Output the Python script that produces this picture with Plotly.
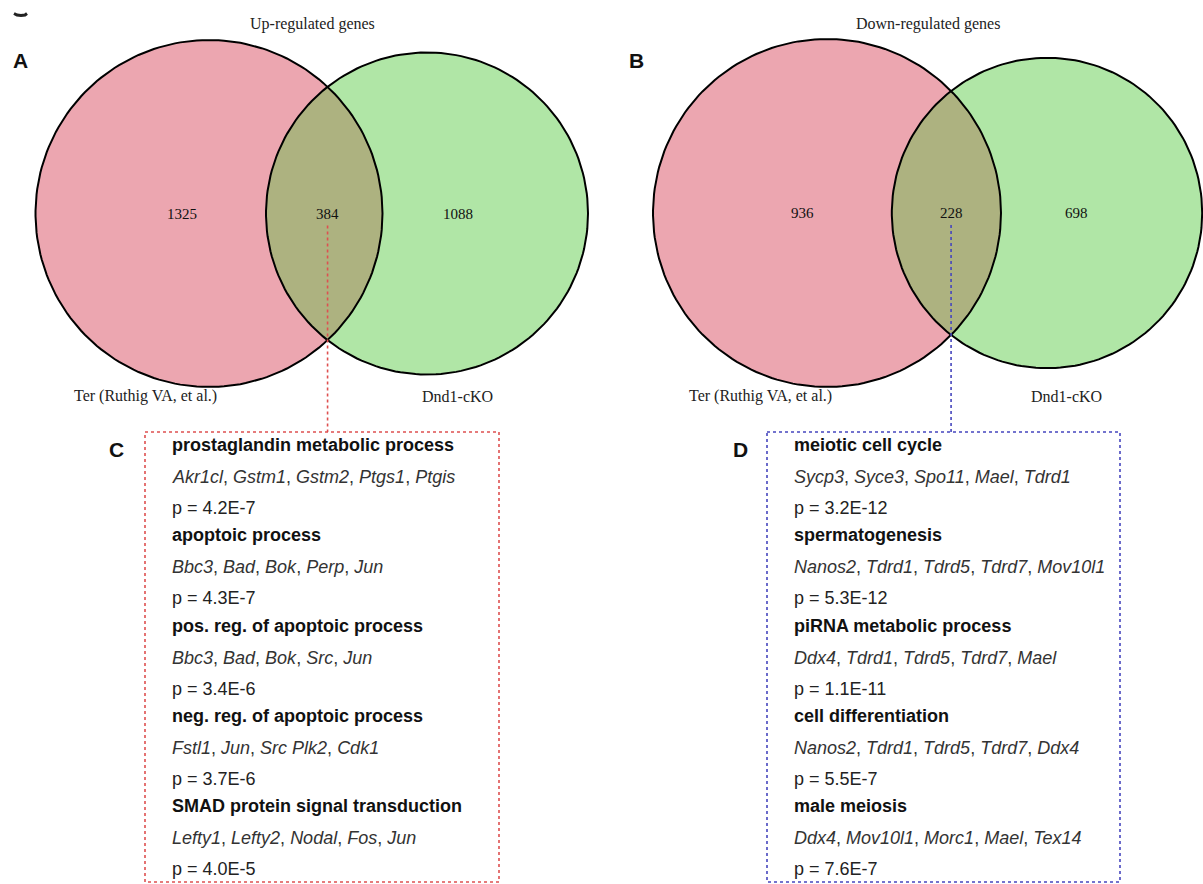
import numpy as np
import plotly.graph_objects as go

# ---- data -------------------------------------------------------------
panel_titles = ["Up-regulated genes", "Down-regulated genes"]
set_names = ["Ter (Ruthig VA, et al.)", "Dnd1-cKO"]

up_only_ter = 1325
up_shared = 384
up_only_dnd = 1088

down_only_ter = 936
down_shared = 228
down_only_dnd = 698

up_terms = ["prostaglandin metabolic process", "apoptoic process",
            "pos. reg. of apoptoic process", "neg. reg. of apoptoic process",
            "SMAD protein signal transduction"]
up_genes = [["Akr1cl", "Gstm1", "Gstm2", "Ptgs1", "Ptgis"],
            ["Bbc3", "Bad", "Bok", "Perp", "Jun"],
            ["Bbc3", "Bad", "Bok", "Src", "Jun"],
            ["Fstl1", "Jun", "Src Plk2", "Cdk1"],
            ["Lefty1", "Lefty2", "Nodal", "Fos", "Jun"]]
up_pvals = ["4.2E-7", "4.3E-7", "3.4E-6", "3.7E-6", "4.0E-5"]

down_terms = ["meiotic cell cycle", "spermatogenesis", "piRNA metabolic process",
              "cell differentiation", "male meiosis"]
down_genes = [["Sycp3", "Syce3", "Spo11", "Mael", "Tdrd1"],
              ["Nanos2", "Tdrd1", "Tdrd5", "Tdrd7", "Mov10l1"],
              ["Ddx4", "Tdrd1", "Tdrd5", "Tdrd7", "Mael"],
              ["Nanos2", "Tdrd1", "Tdrd5", "Tdrd7", "Ddx4"],
              ["Ddx4", "Mov10l1", "Morc1", "Mael", "Tex14"]]
down_pvals = ["3.2E-12", "5.3E-12", "1.1E-11", "5.5E-7", "7.6E-7"]

# ---- styling ----------------------------------------------------------
W, H = 1203, 884
PINK = "rgb(236,166,176)"
GREEN = "rgb(176,230,166)"
OLIVE = "rgb(173,178,128)"
SERIF = "Liberation Serif, Times New Roman, serif"
SANS = "Liberation Sans, Arial, sans-serif"

fig = go.Figure()
annotations = []
shapes = []


def arc(cx, cy, r, t0, t1, n=200):
    t = np.linspace(t0, t1, n)
    return cx + r * np.cos(t), cy + r * np.sin(t)


def venn(cx1, cy, r1, cx2, n1, n2, n12, title, title_x, letter, letter_x,
         lab1_x, lab2_x):
    # radii follow the total size of each set
    r2 = r1 * np.sqrt((n2 + n12) / (n1 + n12))
    d = cx2 - cx1
    a = (d ** 2 + r1 ** 2 - r2 ** 2) / (2 * d)
    h = np.sqrt(r1 ** 2 - a ** 2)

    x1, y1 = arc(cx1, cy, r1, 0, 2 * np.pi)
    x2, y2 = arc(cx2, cy, r2, 0, 2 * np.pi)
    al1 = np.arctan2(h, a)
    al2 = np.arctan2(h, d - a)
    lx1, ly1 = arc(cx1, cy, r1, -al1, al1)
    lx2, ly2 = arc(cx2, cy, r2, np.pi - al2, np.pi + al2)
    lx = np.concatenate([lx1, lx2])
    ly = np.concatenate([ly1, ly2])

    for xs, ys, col in [(x1, y1, PINK), (x2, y2, GREEN), (lx, ly, OLIVE)]:
        fig.add_trace(go.Scatter(x=xs, y=ys, mode="lines", fill="toself",
                                 fillcolor=col, line=dict(width=0),
                                 hoverinfo="skip", showlegend=False))
    for xs, ys in [(x1, y1), (x2, y2)]:
        fig.add_trace(go.Scatter(x=xs, y=ys, mode="lines",
                                 line=dict(color="black", width=2),
                                 hoverinfo="skip", showlegend=False))

    xi = cx1 + a
    num_y = cy
    for x, v in [((cx1 - r1 + xi) / 2, n1), (xi, n12), ((xi + cx2 + r2) / 2, n2)]:
        annotations.append(dict(x=x, y=num_y, text=str(v), showarrow=False,
                                font=dict(family=SERIF, size=15, color="#111"),
                                xanchor="center", yanchor="middle"))
    annotations.append(dict(x=title_x, y=24, text=title, showarrow=False,
                            font=dict(family=SERIF, size=16, color="#222"),
                            xanchor="center", yanchor="middle"))
    annotations.append(dict(x=letter_x, y=60, text="<b>%s</b>" % letter,
                            showarrow=False,
                            font=dict(family=SANS, size=21, color="#111"),
                            xanchor="center", yanchor="middle"))
    annotations.append(dict(x=lab1_x, y=396, text=set_names[0], showarrow=False,
                            font=dict(family=SERIF, size=16, color="#222"),
                            xanchor="center", yanchor="middle"))
    annotations.append(dict(x=lab2_x, y=396, text=set_names[1], showarrow=False,
                            font=dict(family=SERIF, size=16, color="#222"),
                            xanchor="center", yanchor="middle"))
    return xi, num_y


def go_box(x0, x1, y0, y1, col, link_x, link_y0, terms, genes, pvals,
           letter, letter_x, text_x):
    dot = dict(color=col, width=1.6, dash="dot")
    shapes.append(dict(type="rect", x0=x0, x1=x1, y0=y0, y1=y1,
                       xref="x", yref="y", line=dot))
    shapes.append(dict(type="line", x0=link_x, x1=link_x, y0=link_y0, y1=y0,
                       xref="x", yref="y", line=dot))
    annotations.append(dict(x=letter_x, y=449, text="<b>%s</b>" % letter,
                            showarrow=False,
                            font=dict(family=SANS, size=21, color="#111"),
                            xanchor="center", yanchor="middle"))
    step = 90.3
    for i, (term, gl, p) in enumerate(zip(terms, genes, pvals)):
        yb = 445 + i * step
        annotations.append(dict(x=text_x, y=yb, text="<b>%s</b>" % term,
                                showarrow=False, xanchor="left", yanchor="middle",
                                font=dict(family=SANS, size=18, color="#111")))
        gtxt = ", ".join("<i>%s</i>" % g for g in gl)
        annotations.append(dict(x=text_x, y=yb + 32, text=gtxt,
                                showarrow=False, xanchor="left", yanchor="middle",
                                font=dict(family=SANS, size=18, color="#333")))
        annotations.append(dict(x=text_x, y=yb + 63, text="p = %s" % p,
                                showarrow=False, xanchor="left", yanchor="middle",
                                font=dict(family=SANS, size=18, color="#222")))


xa, ya = venn(209, 213.5, 173.5, 427, up_only_ter, up_only_dnd, up_shared,
              panel_titles[0], 312, "A", 20, 145, 457)
xb, yb = venn(827, 213, 174, 1047, down_only_ter, down_only_dnd, down_shared,
              panel_titles[1], 928, "B", 636, 760, 1066)

go_box(145, 499, 432, 882, "rgb(222,80,80)", xa, ya + 12,
       up_terms, up_genes, up_pvals, "C", 116, 170)
go_box(767, 1120, 432, 882, "rgb(70,70,190)", xb, yb + 12,
       down_terms, down_genes, down_pvals, "D", 740, 792)

# clipped fragment of a letter at the top-left edge
fig.add_trace(go.Scatter(x=[14, 17, 21, 25, 27], y=[13.5, 15, 15.6, 15, 13.5],
                         mode="lines", line=dict(color="#222", width=3),
                         hoverinfo="skip", showlegend=False))

fig.update_layout(
    width=W, height=H, autosize=False,
    margin=dict(l=0, r=0, t=0, b=0),
    paper_bgcolor="white", plot_bgcolor="white",
    xaxis=dict(range=[0, W], visible=False, fixedrange=True),
    yaxis=dict(range=[H, 0], visible=False, fixedrange=True),
    annotations=annotations, shapes=shapes,
    showlegend=False,
)

fig.write_html("out.html")
